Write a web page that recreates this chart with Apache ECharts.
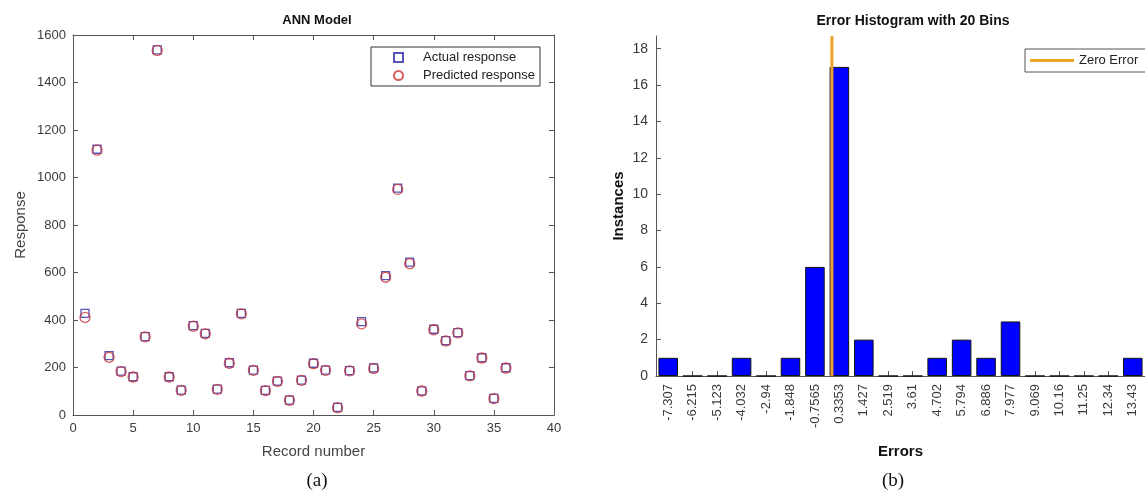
<!DOCTYPE html>
<html><head><meta charset="utf-8">
<script src="https://cdn.jsdelivr.net/npm/echarts@6/dist/echarts.min.js"></script>
<style>html,body{margin:0;padding:0;background:#fff}#c{width:1145px;height:493px}</style>
</head><body><div id="c"></div>
<script>
const records = Array.from({length:36},(_,i)=>i+1);
const actual = [428,1119,250,185,161,330,1537,161,105,376,344,109,220,428,189,104,143,63,147,218,189,32,187,393,198,587,955,644,102,361,313,347,166,241,70,199];
const predicted = [411,1115,243,183,160,329,1535,160,104,374,342,108,218,426,188,103,142,62,146,216,188,31,186,384,196,580,950,637,101,359,312,346,165,240,69,198];
const binLabels = ['-7.307','-6.215','-5.123','-4.032','-2.94','-1.848','-0.7565','0.3353','1.427','2.519','3.61','4.702','5.794','6.886','7.977','9.069','10.16','11.25','12.34','13.43'];
const binCounts = [1,0,0,1,0,1,6,17,2,0,0,1,2,1,3,0,0,0,0,1];
const histTicks = [0,2,4,6,8,10,12,14,16,18];
const zeroError = 0;
const histMax = 18.7;
const binHalf = 0.5459;

const F = 'Liberation Sans, Arial, sans-serif';
const axisCol = '#555';
const lblCol = '#3a3a3a';
const chart = echarts.init(document.getElementById('c'));
const tickIn = () => ({show:true, inside:true, length:5, lineStyle:{color:axisCol}});
const line = () => ({show:true, onZero:false, lineStyle:{color:axisCol}});
chart.setOption({
  animation:false,
  textStyle:{fontFamily:F},
  title:[
    {text:'ANN Model', left:312, top:9, textAlign:'center', textStyle:{fontSize:13, fontWeight:'bold', color:'#111', fontFamily:F}},
    {text:'Error Histogram with 20 Bins', left:908, top:9, textAlign:'center', textStyle:{fontSize:14, fontWeight:'bold', color:'#111', fontFamily:F}},
    {text:'(a)', left:312, top:467, textAlign:'center', textStyle:{fontSize:19, fontWeight:'normal', color:'#111', fontFamily:'Liberation Serif, Times New Roman, serif'}},
    {text:'(b)', left:888, top:467, textAlign:'center', textStyle:{fontSize:19, fontWeight:'normal', color:'#111', fontFamily:'Liberation Serif, Times New Roman, serif'}}
  ],
  legend:[
    {data:['Actual response','Predicted response'], orient:'vertical', left:371, top:47, itemWidth:9, itemHeight:9, itemGap:5,
     borderColor:'#333', borderWidth:1, padding:[4,5,4,22], backgroundColor:'#fff',
     textStyle:{fontSize:13, color:'#222', fontFamily:F, padding:[0,0,0,15]}},
    {data:[{name:'Zero Error', icon:'rect'}], left:1025, top:49, itemWidth:44, itemHeight:3, borderColor:'#555', borderWidth:1, padding:[5,30,5,5], backgroundColor:'#fff',
     itemStyle:{color:'#eda32a'},
     textStyle:{fontSize:13, color:'#222', fontFamily:F}}
  ],
  grid:[
    {left:73, top:35, width:481, height:380},
    {left:656, top:36, width:504, height:340}
  ],
  xAxis:[
    {gridIndex:0, type:'value', min:0, max:40, interval:5, position:'bottom',
     axisLine:line(), axisTick:tickIn(), splitLine:{show:false},
     axisLabel:{color:lblCol, fontSize:13, margin:7},
     name:'Record number', nameLocation:'middle', nameGap:29, nameTextStyle:{color:'#444', fontSize:15}},
    {gridIndex:0, type:'value', min:0, max:40, interval:5, position:'top',
     axisLine:line(), axisTick:tickIn(), axisLabel:{show:false}, splitLine:{show:false}},
    {gridIndex:1, type:'category', data:binLabels, position:'bottom',
     axisLine:line(), axisTick:{show:true, inside:true, length:5, alignWithLabel:true, lineStyle:{color:axisCol}},
     axisLabel:{color:lblCol, fontSize:13, rotate:90, margin:8, interval:0},
     name:'Errors', nameLocation:'middle', nameGap:68, nameTextStyle:{color:'#111', fontSize:15, fontWeight:'bold'}},
    {gridIndex:1, type:'value', min:-7.307-binHalf, max:13.43+binHalf, show:false, axisLine:{onZero:false}}
  ],
  yAxis:[
    {gridIndex:0, type:'value', min:0, max:1600, interval:200, position:'left',
     axisLine:line(), axisTick:tickIn(), splitLine:{show:false},
     axisLabel:{color:lblCol, fontSize:13, margin:7, formatter:v=>String(v)},
     name:'Response', nameLocation:'middle', nameGap:45, nameTextStyle:{color:'#444', fontSize:15}},
    {gridIndex:0, type:'value', min:0, max:1600, interval:200, position:'right',
     axisLine:line(), axisTick:tickIn(), axisLabel:{show:false}, splitLine:{show:false}},
    {gridIndex:1, type:'value', min:0, max:histMax, interval:2, position:'left',
     axisLine:line(),
     axisTick:{show:true, inside:true, length:5, lineStyle:{color:axisCol}, customValues:histTicks},
     axisLabel:{color:lblCol, fontSize:14, margin:8, customValues:histTicks},
     splitLine:{show:false},
     name:'Instances', nameLocation:'middle', nameGap:30, nameTextStyle:{color:'#111', fontSize:15, fontWeight:'bold'}}
  ],
  series:[
    {name:'Actual response', type:'scatter', xAxisIndex:0, yAxisIndex:0, symbol:'rect', symbolSize:8,
     itemStyle:{color:'transparent', borderColor:'#2a2aa8', borderWidth:1.3},
     data:records.map((r,i)=>[r,actual[i]])},
    {name:'Predicted response', type:'scatter', xAxisIndex:0, yAxisIndex:0, symbol:'circle', symbolSize:10,
     itemStyle:{color:'transparent', borderColor:'#cc3535', borderWidth:1.3},
     data:records.map((r,i)=>[r,predicted[i]])},
    {name:'Instances', type:'bar', xAxisIndex:2, yAxisIndex:2, data:binCounts, barWidth:'80%',
     itemStyle:{color:'#0000ff', borderColor:'#111', borderWidth:1}},
    {name:'Zero Error', type:'line', xAxisIndex:3, yAxisIndex:2, symbol:'none',
     lineStyle:{color:'#eda32a', width:3}, itemStyle:{color:'#eda32a'},
     data:[[zeroError,0],[zeroError,histMax]], z:5}
  ]
});
</script></body></html>
